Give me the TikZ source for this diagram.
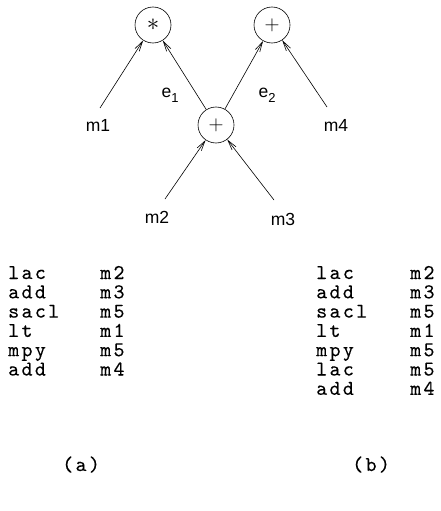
\documentclass[tikz,border=0pt]{standalone}
\usepackage{fontspec}
\setmainfont{Liberation Sans}
% letter-spaced typewriter face for the instruction listings
\newfontfamily\codefont{lmmono10-regular.otf}[LetterSpace=11,FakeBold=0.2]
\usetikzlibrary{arrows.meta}

\begin{document}
\begin{tikzpicture}[x=1pt,y=-1pt,
  op/.style={circle,draw,line width=0.6pt,minimum size=36pt,inner sep=0pt,
             font=\fontsize{20}{20}\selectfont},
  lbl/.style={inner sep=0pt,font=\fontsize{17.5}{17.5}\selectfont},
  edge/.style={line width=0.6pt,-{Straight Barb[length=10pt,width=5pt,line width=0.6pt]}},
  code/.style={inner sep=0pt,anchor=base west,
               font=\fontsize{21}{21}\codefont}]
\useasboundingbox (0,0) rectangle (440,511);

% operator nodes
\node[op,font=\fontsize{27}{27}\selectfont] (mul) at (153,25) {$\ast$};
\node[op] (add2) at (272,25)  {$+$};
\node[op] (add1) at (216,125) {$+$};

% operand labels
\node[lbl] (m1) at (98,125)  {m1};
\node[lbl] (m4) at (336,125) {m4};
\node[lbl] (m2) at (157,217) {m2};
\node[lbl] (m3) at (283,219) {m3};
\node[lbl] (e1) at (170,95)  {e\raisebox{-5pt}{\fontsize{13}{13}\selectfont 1}};
\node[lbl] (e2) at (267,95)  {e\raisebox{-5pt}{\fontsize{13}{13}\selectfont 2}};

% tails of the operand edges
\coordinate (t1) at (100,108);
\coordinate (t4) at (327,107);
\coordinate (t2) at (165,199);
\coordinate (t3) at (274,200);

\draw[edge] (t1) -- (mul);
\draw[edge] (add1) -- (mul);
\draw[edge] (add1) -- (add2);
\draw[edge] (t4) -- (add2);
\draw[edge] (t2) -- (add1);
\draw[edge] (t3) -- (add1);

% code listing (a)
\foreach \op/\arg [count=\i from 0] in {lac/m2,add/m3,sacl/m5,lt/m1,mpy/m5,add/m4}{
  \node[code] (ao\i) at (8,279+19.3*\i) {\op};
  \node[code] (aa\i) at (100,279+19.3*\i) {\arg};
}
% code listing (b)
\foreach \op/\arg [count=\i from 0] in {lac/m2,add/m3,sacl/m5,lt/m1,mpy/m5,lac/m5,add/m4}{
  \node[code] (bo\i) at (316,279+19.3*\i) {\op};
  \node[code] (ba\i) at (410,279+19.3*\i) {\arg};
}

\node[code] (capa) at (62,471)  {(a)};
\node[code] (capb) at (352,471) {(b)};
\end{tikzpicture}
\end{document}
